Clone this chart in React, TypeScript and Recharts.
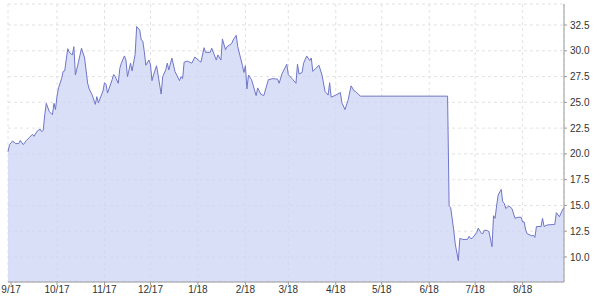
import { AreaChart, Area, XAxis, YAxis, CartesianGrid } from 'recharts'

// days since 2017-09-01
const days = [
  -2, -1, 1, 3, 5, 6, 8, 10, 12, 14, 15, 17, 19, 20, 21, 22, 23, 25, 27, 28,
  29, 30, 31, 33, 34, 35, 37, 38, 40, 41, 42, 44, 46, 48, 50, 51, 53, 55, 56, 57,
  60, 61, 62, 63, 66, 67, 68, 70, 71, 72, 74, 75, 76, 78, 79, 81, 82, 84, 85, 86,
  87, 88, 90, 91, 92, 93, 95, 98, 99, 101, 102, 103, 105, 107, 110, 111, 112, 113, 115, 118,
  120, 123, 124, 126, 127, 130, 131, 134, 135, 137, 138, 140, 141, 144, 145, 147, 148, 151, 152, 153,
  154, 155, 157, 160, 161, 163, 165, 168, 171, 174, 175, 177, 180, 181, 184, 186, 187, 188, 190, 191,
  193, 195, 196, 197, 199, 201, 203, 205, 207, 208, 209, 212, 215, 216, 218, 220, 222, 224, 225, 228,
  285, 286, 287, 289, 290, 292, 293, 295, 298, 299, 300, 301, 304, 305, 307, 308, 309, 311, 312, 314,
  315, 316, 317, 318, 320, 321, 322, 323, 325, 327, 329, 331, 333, 334, 335, 336, 337, 340, 341, 342,
  343, 346, 347, 348, 350, 354, 355, 356, 358, 360, 361,
]

const prices = [
  20.2, 20.9, 21.25, 21.0, 21.0, 21.3, 20.9, 21.3, 21.6, 21.9, 21.7, 22.2, 22.4, 22.15, 22.3, 23.8, 24.9, 24.1, 23.8, 24.9,
  24.3, 25.6, 26.4, 27.3, 28.0, 28.05, 30.2, 29.85, 29.6, 30.4, 27.65, 28.9, 30.25, 29.3, 26.85, 26.3, 25.7, 24.8, 25.55, 24.95,
  26.1, 26.9, 26.75, 25.9, 27.2, 27.7, 27.5, 26.85, 28.3, 28.8, 29.5, 29.1, 27.5, 28.8, 28.05, 29.65, 32.35, 32.0, 31.05, 30.95,
  29.9, 28.6, 29.1, 28.7, 27.1, 27.65, 28.55, 25.8, 27.5, 28.15, 28.8, 28.15, 29.3, 28.0, 27.1, 27.5, 27.3, 28.9, 29.0, 28.8,
  29.4, 29.0, 28.9, 30.3, 29.85, 29.85, 30.25, 29.1, 29.6, 29.1, 31.15, 30.1, 30.4, 30.7, 31.05, 31.5, 30.4, 28.6, 27.9, 28.55,
  26.3, 27.65, 27.2, 25.65, 26.4, 25.8, 25.65, 27.2, 27.3, 27.25, 26.85, 27.8, 28.7, 27.7, 27.2, 26.85, 28.7, 27.75, 27.9, 28.8,
  29.5, 29.05, 29.3, 28.0, 28.3, 28.6, 27.65, 26.05, 25.7, 26.9, 25.5, 25.7, 25.95, 24.95, 24.3, 25.2, 26.6, 26.1, 26.05, 25.6,
  25.6, 14.95, 14.8, 12.6, 11.25, 9.65, 11.8, 11.7, 11.7, 12.0, 11.8, 11.8, 12.35, 12.8, 12.3, 12.25, 12.6, 12.55, 12.45, 11.0,
  14.0, 13.75, 14.95, 16.0, 16.55, 15.35, 15.2, 14.7, 14.95, 14.7, 13.75, 13.85, 13.85, 13.4, 13.4, 12.6, 12.25, 12.05, 12.1, 11.9,
  12.95, 12.95, 13.75, 12.95, 13.1, 13.15, 13.15, 14.3, 13.9, 14.55, 14.8,
]

const monthTicks = [0, 30, 61, 91, 122, 153, 181, 212, 242, 273, 303, 334]
const monthLabels = ['9/17', '10/17', '11/17', '12/17', '1/18', '2/18', '3/18', '4/18', '5/18', '6/18', '7/18', '8/18']
const priceTicks = [10, 12.5, 15, 17.5, 20, 22.5, 25, 27.5, 30, 32.5]

const data = days.map((d, i) => ({ day: d, price: prices[i] }))

const tickStyle = { fontSize: 10, fill: '#333', fontFamily: 'Liberation Sans, Arial, sans-serif' }

export default function App() {
  return (
    <div style={{ position: 'absolute', left: 0, top: 0, background: '#fff' }}>
      <AreaChart width={600} height={300} data={data} margin={{ top: 4, right: 0, left: 8, bottom: 0 }}>
        <CartesianGrid stroke="#e2e2e2" strokeDasharray="3 3" />
        <XAxis
          dataKey="day"
          type="number"
          domain={['dataMin', 'dataMax']}
          ticks={monthTicks}
          tickFormatter={(v) => monthLabels[monthTicks.indexOf(v)] ?? ''}
          tick={tickStyle}
          tickSize={3}
          tickMargin={1}
          height={18}
          stroke="#999"
        />
        <XAxis xAxisId="top" orientation="top" dataKey="day" type="number" domain={['dataMin', 'dataMax']} tick={false} height={0} stroke="#bbb" />
        <YAxis
          orientation="right"
          domain={[7.57, 34.54]}
          ticks={priceTicks}
          tickFormatter={(v) => v.toFixed(1)}
          tick={tickStyle}
          tickSize={3}
          tickMargin={3}
          width={36}
          stroke="#999"
          allowDataOverflow
        />
        <YAxis yAxisId="left" orientation="left" tick={false} width={0} stroke="#bbb" />
        <Area
          type="linear"
          dataKey="price"
          stroke="#6f76c6"
          strokeWidth={1}
          fill="#ced4f6"
          fillOpacity={0.75}
          baseValue="dataMin"
          isAnimationActive={false}
        />
      </AreaChart>
    </div>
  )
}
